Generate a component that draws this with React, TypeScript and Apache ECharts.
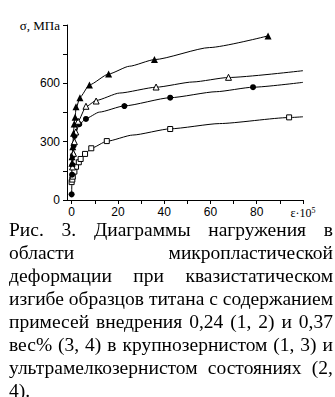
import React, { useEffect, useRef } from "react";
import * as echarts from "echarts";

// Tick values
const xTickValues = [0, 10, 20, 30, 40, 50, 60, 70, 80, 90, 100];
const xLabelValues = [0, 20, 40, 60, 80, 100];
const yTickValues = [0, 150, 300, 450, 600, 750, 900];
const yLabelValues = [0, 300, 600];

// Measured points (markers) [ε·10^5, σ MPa]
const marks1 = [[0, 92], [0.3, 105], [0.5, 120], [1.2, 146], [1.9, 171], [3.1, 194], [3.9, 211], [5.8, 237], [8.5, 266], [15.2, 303], [42.6, 365], [94, 425]];
const marks2 = [[0, 29], [0.2, 130], [0.4, 180], [0.6, 230], [0.9, 280], [1.3, 330], [3.3, 390], [6.2, 417], [22.8, 483], [42.6, 526], [78.4, 580]];
const marks3 = [[0.4, 170], [0.8, 240], [1.2, 300], [1.8, 350], [2.8, 405], [6.2, 482], [10.6, 509], [36.5, 581], [67.8, 631]];
const marks4 = [[0.1, 189], [0.2, 223], [0.5, 274], [0.8, 343], [1.1, 391], [1.5, 425], [1.9, 480], [3.6, 526], [7.7, 592], [16, 648], [35.8, 723], [84.9, 844]];

// Fitted curves [ε·10^5, σ MPa]
const line1 = [[0, 88], [0.5, 120], [1.2, 146], [1.9, 171], [3.1, 194], [3.9, 211], [5.8, 237], [8.5, 266], [15.2, 302], [26.4, 334], [42.6, 366], [63.9, 393], [94, 424], [100, 428]];
const line2 = [[0, 20], [0.2, 130], [0.4, 180], [0.6, 230], [0.9, 280], [1.3, 330], [3.3, 388], [6.2, 419], [12, 452], [22.8, 484], [42.6, 526], [62.5, 557], [78.4, 580], [100, 605]];
const line3 = [[0.3, 150], [0.8, 240], [1.2, 300], [1.8, 350], [2.8, 405], [6.2, 480], [10.6, 512], [20.7, 550], [36.5, 580], [52.4, 607], [67.8, 630], [100, 665]];
const line4 = [[0.1, 189], [0.2, 223], [0.5, 274], [0.8, 343], [1.1, 391], [1.5, 430], [1.9, 470], [3.6, 528], [7.7, 592], [16, 648], [25, 688], [35.8, 722], [59.6, 784], [84.9, 844]];

const curveNames = ["1", "2", "3", "4"];
const curveLabelPos = [[64.5, 370], [64.5, 545], [63.8, 669], [63.8, 859]];

const captionLines = [
  "Рис. 3. Диаграммы нагружения в",
  "области микропластической",
  "деформации при квазистатическом",
  "изгибе образцов титана с содержанием",
  "примесей внедрения 0,24 (1, 2) и 0,37",
  "вес% (3, 4) в крупнозернистом (1, 3) и",
  "ультрамелкозернистом состояниях (2,",
  "4).",
];

export default function App() {
  const ref = useRef<HTMLDivElement>(null);
  useEffect(() => {
    if (!ref.current) return;
    const chart = echarts.init(ref.current, null, { renderer: "svg" });
    const lineSeries = (name: string, data: number[][]) => ({
      type: "line",
      name,
      data,
      smooth: 0.2,
      smoothMonotone: "x",
      showSymbol: false,
      symbol: "none",
      lineStyle: { color: "#000", width: 1 },
      z: 2,
    });
    const markSeries = (name: string, data: number[][], symbol: string, size: number, filled: boolean) => ({
      type: "scatter",
      name,
      data,
      symbol,
      symbolSize: size,
      itemStyle: filled
        ? { color: "#000", borderColor: "#000", borderWidth: 0, opacity: 1 }
        : { color: "#fff", borderColor: "#000", borderWidth: 1, opacity: 1 },
      z: 3,
    });
    chart.setOption({
      animation: false,
      grid: { left: 67, right: 32, top: 25, bottom: 25 },
      xAxis: {
        type: "value",
        min: -2,
        max: 100,
        axisLine: { show: true, onZero: false, lineStyle: { color: "#000", width: 1 } },
        axisTick: { show: true, customValues: xTickValues, length: 4, lineStyle: { color: "#000" } },
        splitLine: { show: false },
        axisLabel: {
          customValues: xLabelValues,
          margin: 6,
          color: "#000",
          fontFamily: "Liberation Sans",
          fontSize: 12,
          formatter: (v: number) => (v === 100 ? "{e|ε·10}{s|5}" : String(v)),
          rich: {
            e: { fontFamily: "Liberation Serif", fontSize: 12, color: "#000", padding: [1, 0, 0, 0] },
            s: { fontFamily: "Liberation Serif", fontSize: 8, color: "#000", padding: [0, 0, 5, 0] },
          },
        },
      },
      yAxis: {
        type: "value",
        min: 0,
        max: 900,
        name: "σ, МПа",
        nameLocation: "end",
        nameGap: 0,
        nameTextStyle: {
          align: "right",
          verticalAlign: "middle",
          padding: [0, 7, 0, 0],
          color: "#000",
          fontFamily: "Liberation Serif",
          fontSize: 13,
        },
        axisLine: { show: true, onZero: false, lineStyle: { color: "#000", width: 1 } },
        axisTick: { show: true, customValues: yTickValues, length: 4, lineStyle: { color: "#000" } },
        splitLine: { show: false },
        axisLabel: {
          customValues: yLabelValues,
          margin: 7,
          color: "#000",
          fontFamily: "Liberation Sans",
          fontSize: 12,
        },
      },
      series: [
        lineSeries("1", line1),
        lineSeries("2", line2),
        lineSeries("3", line3),
        lineSeries("4", line4),
        markSeries("1", marks1, "rect", 5, false),
        markSeries("2", marks2, "circle", 6, true),
        markSeries("3", marks3, "triangle", 6, false),
        markSeries("4", marks4, "triangle", 7, true),
        {
          type: "scatter",
          name: "labels",
          symbol: "none",
          data: curveLabelPos.map((p, i) => ({ value: p, name: curveNames[i] })),
          label: {
            show: true,
            position: "inside",
            formatter: (p: any) => p.name,
            color: "#222",
            fontFamily: "Liberation Sans",
            fontSize: 15,
          },
          z: 4,
        },
      ],
    });
    return () => chart.dispose();
  }, []);

  return (
    <div style={{ position: "fixed", left: 0, top: 0, width: 335, height: 397, background: "#fff" }}>
      <div ref={ref} style={{ position: "absolute", left: 0, top: 0, width: 335, height: 225 }} />
      <div
        style={{
          position: "absolute",
          left: 9,
          top: 218,
          width: 324,
          fontFamily: "'Liberation Serif', 'Times New Roman', serif",
          fontSize: 19.5,
          lineHeight: "23px",
          color: "#000",
        }}
      >
        {captionLines.map((l, i) => (
          <div
            key={i}
            style={{
              whiteSpace: "nowrap",
              textAlign: "justify",
              textAlignLast: i === captionLines.length - 1 ? "left" : "justify",
            }}
          >
            {l}
          </div>
        ))}
      </div>
    </div>
  );
}
